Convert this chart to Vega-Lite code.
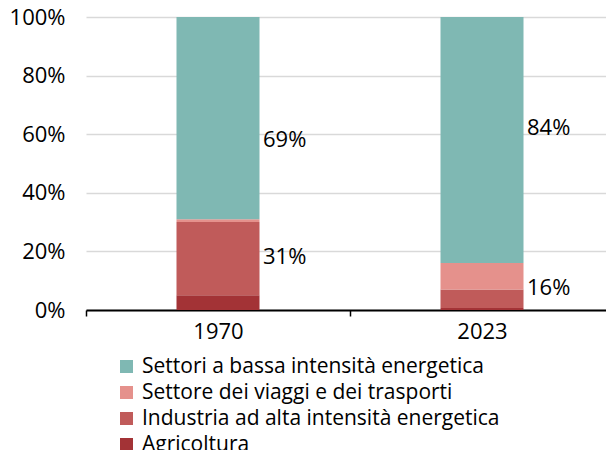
{
  "$schema": "https://vega.github.io/schema/vega-lite/v6.json",
  "width": 528,
  "height": 293,
  "autosize": "none",
  "padding": {"left": 86, "top": 17, "right": 0, "bottom": 140},
  "config": {"font": "Open Sans", "view": {"stroke": null}},
  "datasets": {
    "bars": [
      {"year": "1970", "sector": "Agricoltura", "ord": 1, "value": 5},
      {"year": "1970", "sector": "Industria ad alta intensità energetica", "ord": 2, "value": 25},
      {"year": "1970", "sector": "Settore dei viaggi e dei trasporti", "ord": 3, "value": 1},
      {"year": "1970", "sector": "Settori a bassa intensità energetica", "ord": 4, "value": 69},
      {"year": "2023", "sector": "Agricoltura", "ord": 1, "value": 0.7},
      {"year": "2023", "sector": "Industria ad alta intensità energetica", "ord": 2, "value": 6.3},
      {"year": "2023", "sector": "Settore dei viaggi e dei trasporti", "ord": 3, "value": 9},
      {"year": "2023", "sector": "Settori a bassa intensità energetica", "ord": 4, "value": 84}
    ],
    "labels": [
      {"year": "1970", "pos": 58, "label": "69%"},
      {"year": "1970", "pos": 18, "label": "31%"},
      {"year": "2023", "pos": 62, "label": "84%"},
      {"year": "2023", "pos": 7.5, "label": "16%"}
    ]
  },
  "layer": [
    {
      "data": {"name": "bars"},
      "mark": {"type": "bar", "width": 83},
      "encoding": {
        "x": {
          "field": "year", "type": "nominal", "title": null,
          "scale": {"paddingInner": 0, "paddingOuter": 0},
          "axis": {
            "labelAngle": 0, "labelFontSize": 22, "labelColor": "#000000",
            "domainColor": "#000000", "domainWidth": 2,
            "tickColor": "#000000", "tickWidth": 1.5, "tickSize": 6,
            "tickBand": "extent", "labelPadding": 5
          }
        },
        "y": {
          "field": "value", "type": "quantitative", "stack": "zero", "title": null,
          "scale": {"domain": [0, 100], "nice": false},
          "axis": {
            "values": [0, 20, 40, 60, 80, 100],
            "labelExpr": "datum.value + '%'",
            "labelFontSize": 22, "labelColor": "#000000",
            "domain": false, "ticks": false, "labelPadding": 21,
            "gridColor": "#d9d9d9", "gridWidth": 1.5
          }
        },
        "color": {
          "field": "sector", "type": "nominal",
          "scale": {
            "domain": ["Settori a bassa intensità energetica", "Settore dei viaggi e dei trasporti", "Industria ad alta intensità energetica", "Agricoltura"],
            "range": ["#7fb8b3", "#e5918c", "#c05b5a", "#a33336"]
          },
          "legend": {
            "title": null, "orient": "none", "legendX": 30, "legendY": 339,
            "symbolType": "square", "symbolSize": 169, "symbolStrokeWidth": 0,
            "labelFontSize": 21, "labelColor": "#000000", "rowPadding": 4,
            "labelOffset": 5, "labelLimit": 500, "symbolOpacity": 1
          }
        },
        "order": {"field": "ord", "type": "quantitative"}
      }
    },
    {
      "data": {"name": "labels"},
      "mark": {"type": "text", "align": "left", "baseline": "middle", "dx": 45, "fontSize": 22, "color": "#000000"},
      "encoding": {
        "x": {"field": "year", "type": "nominal"},
        "y": {"field": "pos", "type": "quantitative"},
        "text": {"field": "label"}
      }
    }
  ]
}
